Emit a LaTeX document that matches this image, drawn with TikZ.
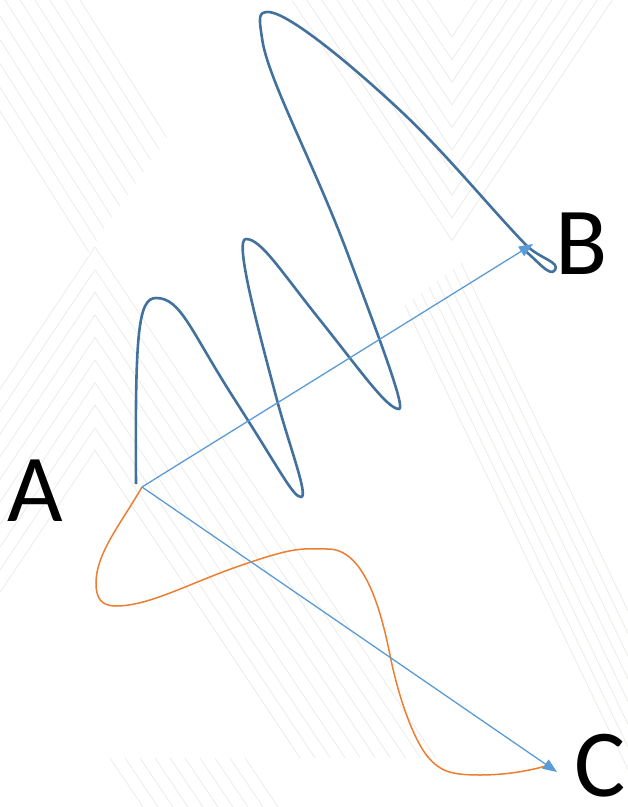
\documentclass[tikz,border=0pt]{standalone}
\usepackage{fontspec}
\setmainfont{Carlito}
\usetikzlibrary{arrows.meta}
\definecolor{coilblue}{RGB}{65, 113, 156}
\definecolor{vecblue}{RGB}{91, 155, 213}
\definecolor{waveorange}{RGB}{237, 125, 49}
\definecolor{stripegray}{RGB}{236, 235, 229}

\begin{document}
\begin{tikzpicture}[x=1pt, y=-1pt, >={Triangle[length=14pt, width=11pt]},
    stripe/.style={stripegray, line width=0.8pt},
    coil/.style={coilblue, line width=2.6pt},
    wave/.style={waveorange, line width=1.5pt},
    vec/.style={->, vecblue, line width=1.3pt},
    letter/.style={anchor=base, inner sep=0pt, font=\fontsize{96}{100}\selectfont}]
    \useasboundingbox (0,0) rectangle (628,807);

    % faint chevrons in the background
    \begin{scope}
      \clip (0,0) rectangle (628,807);
      \foreach \k in {0,...,9} {
        \draw[stripe] (0,{389+22.6*\k}) -- (95,{247+22.6*\k}) -- ({95+(511-22.6*\k)/1.5},758);
        \draw[stripe] ({452-(37+22.6*\k)/1.5},0) -- (452,{37+22.6*\k}) -- ({452+(37+22.6*\k)/1.5},0);
      }
      \foreach \x in {110,125,...,245}
        \draw[stripe] (\x,758) -- (\x+33,807);
      \foreach \k in {0,...,7}
        \draw[stripe] ({405+8*\k},{305-6*\k}) -- ({405+8*\k+0.48*500},{305-6*\k+500});
      \begin{scope}
        \clip (0,0) -- (260,0) -- (0,383) -- cycle;
        \foreach \x in {-70,-55,...,80}
          \draw[stripe] (\x,0) -- (\x+252,400);
      \end{scope}
    \end{scope}

    \coordinate (a) at (142,487);
    \coordinate (b) at (533,244);
    \coordinate (c) at (557,772);
    \coordinate (coilstart) at (136,484);
    \coordinate (coilend) at (524,250);
    \coordinate (waveend) at (546,766);

    \node[letter] (labA) at (35,521) {A};
    \node[letter] (labB) at (582,274) {B};
    \node[letter] (labC) at (600,796) {C};

    \draw[wave] (a) .. controls +(-20,35) and +(0,-30) .. (96,583)
      .. controls +(0,15) and +(-15,0) .. (116,606)
      .. controls +(35,0) and +(-55,18) .. (248,563)
      .. controls +(50,-17) and +(-25,0) .. (328,549)
      .. controls +(35,0) and +(-10,-50) .. (390,655)
      .. controls +(10,50) and +(-12,-14) .. (428,757)
      .. controls +(12,14) and +(-30,0) .. (480,775)
      .. controls +(25,0) and +(-18,5) .. (waveend);

    \draw[coil] (coilstart) .. controls +(-1,-150) and +(-18,0) .. (156,298)
      .. controls +(25,0) and +(-45,-70) .. (235,400)
      .. controls +(45,70) and +(-8,0) .. (301,497)
      .. controls +(8,0) and +(12,45) .. (277,400)
      .. controls +(-20,-75) and +(-12,0) .. (246,239)
      .. controls +(15,0) and +(-40,-50) .. (320,320)
      .. controls +(40,50) and +(-12,0) .. (399,409)
      .. controls +(7,0) and +(30,80) .. (350,260)
      .. controls +(-35,-95) and +(5,40) .. (262,38)
      .. controls +(-3,-20) and +(-10,0) .. (268,12)
      .. controls +(22,0) and +(-40,-38) .. (405,115)
      .. controls +(45,43) and +(-35,-36) .. (527,246)
      .. controls +(14,13) and +(5,-8) .. (555,270)
      .. controls +(-5,8) and +(12,9) .. (coilend);

    \draw[vec] (a) -- (b);
    \draw[vec] (a) -- (c);
\end{tikzpicture}
\end{document}
